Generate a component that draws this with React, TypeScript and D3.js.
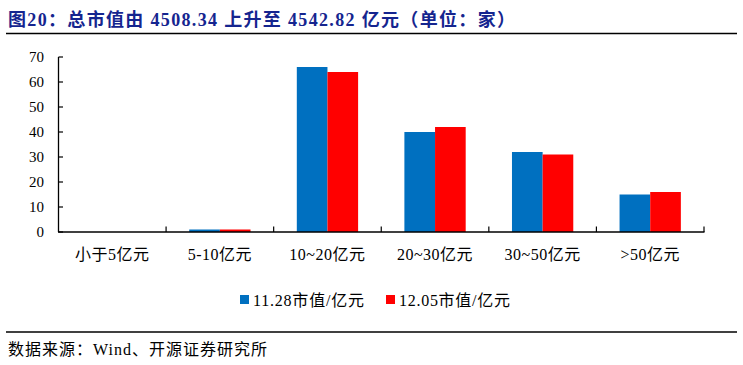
import React from "react";
import * as d3 from "d3";

const categories = ["小于5亿元", "5-10亿元", "10~20亿元", "20~30亿元", "30~50亿元", ">50亿元"];
const seriesNames = ["11.28市值/亿元", "12.05市值/亿元"];
const seriesA = [0, 1, 66, 40, 32, 15];
const seriesB = [0, 1, 64, 42, 31, 16];
const yTicks = [0, 10, 20, 30, 40, 50, 60, 70];
const colors = ["#0070C0", "#FF0000"];

const W = 743;
const H = 365;
const serif = "'Times New Roman', 'Liberation Serif', 'Noto Sans CJK SC', serif";

export default function App() {
  const x0 = d3.scaleBand<string>().domain(categories).range([58.5, 704]).paddingInner(0).paddingOuter(0);
  const x1 = d3.scaleBand<string>().domain(["a", "b"]).range([0, x0.bandwidth()]).paddingInner(0).paddingOuter(0.755);
  const y = d3.scaleLinear().domain([0, 70]).range([232, 57]);
  const series = [seriesA, seriesB];
  const keys = ["a", "b"];

  return (
    <svg width={W} height={H} style={{ position: "absolute", left: 0, top: 0, background: "#fff" }}>
      <text x={8} y={26} fontFamily={serif} fontWeight="bold" fontSize={18} fill="#15258F"
        textLength={507} lengthAdjust="spacing">
        图20：总市值由 4508.34 上升至 4542.82 亿元（单位：家）
      </text>
      <line x1={6} x2={737} y1={33.5} y2={33.5} stroke="#000" strokeWidth={1.5} />

      {series.map((s, si) =>
        s.map((v, i) => (
          <rect
            key={`${si}-${i}`}
            x={(x0(categories[i]) as number) + (x1(keys[si]) as number)}
            y={y(v)}
            width={x1.bandwidth()}
            height={y(0) - y(v)}
            fill={colors[si]}
          />
        ))
      )}

      <line x1={58.5} x2={58.5} y1={57} y2={232} stroke="#000" strokeWidth={1.3} />
      <line x1={58} x2={704.5} y1={232} y2={232} stroke="#000" strokeWidth={1.3} />
      {yTicks.map((t) => (
        <g key={t}>
          <line x1={58.5} x2={63} y1={y(t)} y2={y(t)} stroke="#000" strokeWidth={1.2} />
          <text x={44} y={y(t)} dy="0.35em" textAnchor="end" fontFamily={serif} fontSize={15} fill="#000">
            {t}
          </text>
        </g>
      ))}
      {categories.map((c, i) => {
        const xs = (x0(c) as number) + x0.bandwidth();
        return (
          <line key={"t" + i} x1={xs} x2={xs} y1={232} y2={226.5} stroke="#000" strokeWidth={1.2} />
        );
      })}
      {categories.map((c) => (
        <text
          key={c}
          x={(x0(c) as number) + x0.bandwidth() / 2}
          y={260}
          textAnchor="middle"
          fontFamily={serif}
          fontSize={16}
          letterSpacing={0.5}
          fill="#000"
        >
          {c}
        </text>
      ))}

      {seriesNames.map((n, i) => (
        <g key={n} transform={`translate(${i === 0 ? 240 : 386},0)`}>
          <rect x={0} y={295} width={9} height={9} fill={colors[i]} />
          <text x={13} y={306} fontFamily={serif} fontSize={16} fill="#000" textLength={111} lengthAdjust="spacing">
            {n}
          </text>
        </g>
      ))}

      <line x1={6} x2={737} y1={332} y2={332} stroke="#000" strokeWidth={1.5} />
      <text x={8} y={355} fontFamily={serif} fontSize={16} fill="#000" textLength={259} lengthAdjust="spacing">
        数据来源：Wind、开源证券研究所
      </text>
    </svg>
  );
}
